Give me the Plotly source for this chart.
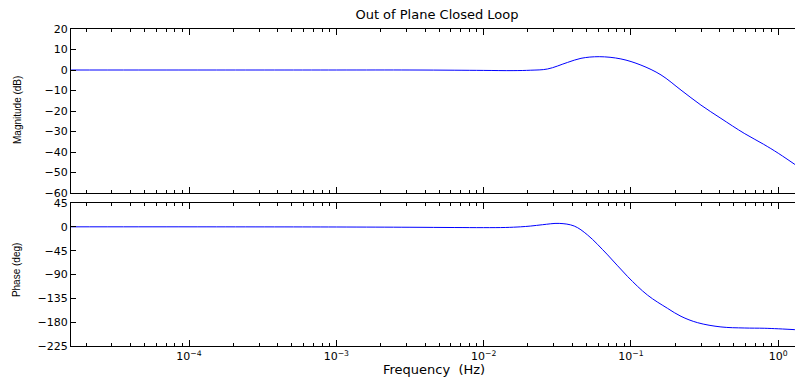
import plotly.graph_objects as go

# Values
mag_freq_hz = [1.585e-5, 1e-4, 1e-3, 3.162e-3, 6.31e-3, 1e-2, 1.585e-2, 2.089e-2,
               2.716e-2, 3.715e-2, 4.581e-2, 6.095e-2, 8.551e-2, 0.1169, 0.16,
               0.2188, 0.2985, 0.4083, 0.5875, 0.7943, 1.0, 1.472]
magnitude_db = [0, 0, 0, 0, -0.1, -0.2, -0.3, -0.1,
                0.5, 3.7, 5.7, 6.5, 5.4, 2.4, -2.4,
                -9.8, -17.1, -23.6, -30.9, -36.2, -40.6, -48.8]

phase_freq_hz = [1.585e-5, 1e-4, 1e-3, 3.162e-3, 6.31e-3, 1e-2, 1.413e-2, 1.778e-2,
                 2.089e-2, 2.512e-2, 3.258e-2, 4.121e-2, 5.082e-2, 6.95e-2, 9.506e-2,
                 0.1297, 0.1774, 0.2188, 0.2838, 0.4083, 0.5875, 0.8035, 1.0, 1.472]
phase_deg = [0, 0, -0.3, -0.8, -1.3, -1.5, -1.2, 0,
             1.5, 4, 6.5, 1.5, -15.5, -53, -94,
             -129, -154, -169, -181, -189, -191, -191.5, -192.5, -195]

mag_ticks = [-60, -50, -40, -30, -20, -10, 0, 10, 20]
phase_ticks = [-225, -180, -135, -90, -45, 0, 45]
x_major = [1e-4, 1e-3, 1e-2, 1e-1, 1e0]
x_major_text = ["10<sup>−4</sup>", "10<sup>−3</sup>", "10<sup>−2</sup>",
                "10<sup>−1</sup>", "10<sup>0</sup>"]
x_minor = [m * 10.0 ** e for e in range(-5, 1) for m in range(2, 10)]

FONT = "DejaVu Sans, Liberation Sans, Arial, sans-serif"
NARROW = "Liberation Sans, Arial, sans-serif"
LINE = "#0000ff"

fig = go.Figure()
fig.add_trace(go.Scatter(x=mag_freq_hz, y=magnitude_db, mode="lines",
                         line=dict(color=LINE, width=1, shape="spline", smoothing=1.0),
                         xaxis="x", yaxis="y", showlegend=False))
fig.add_trace(go.Scatter(x=phase_freq_hz, y=phase_deg, mode="lines",
                         line=dict(color=LINE, width=1, shape="spline", smoothing=1.0),
                         xaxis="x2", yaxis="y2", showlegend=False))

xcommon = dict(type="log", range=[-4.801, 0.168], showline=True, linecolor="black",
               linewidth=1, mirror="ticks", ticks="inside", ticklen=6, tickcolor="black",
               tickmode="array", tickvals=x_major, showgrid=False, zeroline=False,
               minor=dict(tickmode="array", tickvals=x_minor, ticks="inside",
                          ticklen=3, tickcolor="black", showgrid=False),
               tickfont=dict(family=FONT, size=11, color="black"))
ycommon = dict(showline=True, linecolor="black", linewidth=1, mirror="ticks",
               ticks="inside", ticklen=5, tickcolor="black", showgrid=False,
               zeroline=False, tickmode="array",
               tickfont=dict(family=FONT, size=11, color="black"))

fig.update_layout(
    width=795, height=372,
    margin=dict(l=63, r=0, t=21, b=34),
    paper_bgcolor="white", plot_bgcolor="white",
    title=dict(text="Out of Plane Closed Loop", x=0.5396, xanchor="center",
               y=1 - 6 / 372, yanchor="middle",
               font=dict(family=FONT, size=13, color="black")),
    xaxis=dict(xcommon, domain=[0, 1], anchor="y", showticklabels=False),
    xaxis2=dict(xcommon, domain=[0, 1], anchor="y2", ticktext=x_major_text),
    yaxis=dict(ycommon, domain=[0.4826, 1], range=[-60, 20], tickvals=mag_ticks,
               anchor="x"),
    yaxis2=dict(ycommon, domain=[0, 0.4511], range=[-225, 45], tickvals=phase_ticks,
                anchor="x2"),
    annotations=[
        dict(text="Magnitude (dB)", xref="paper", yref="paper", x=-0.0724, y=0.7445,
             xanchor="center", yanchor="middle", textangle=-90, showarrow=False,
             font=dict(family=NARROW, size=10, color="black")),
        dict(text="Phase (deg)", xref="paper", yref="paper", x=-0.075, y=0.2397,
             xanchor="center", yanchor="middle", textangle=-90, showarrow=False,
             font=dict(family=NARROW, size=10, color="black")),
        dict(text="Frequency  (Hz)", xref="paper", yref="paper", x=0.4959, y=-0.0726,
             xanchor="center", yanchor="middle", showarrow=False,
             font=dict(family=FONT, size=13, color="black")),
    ],
)

fig.write_html("out.html")
